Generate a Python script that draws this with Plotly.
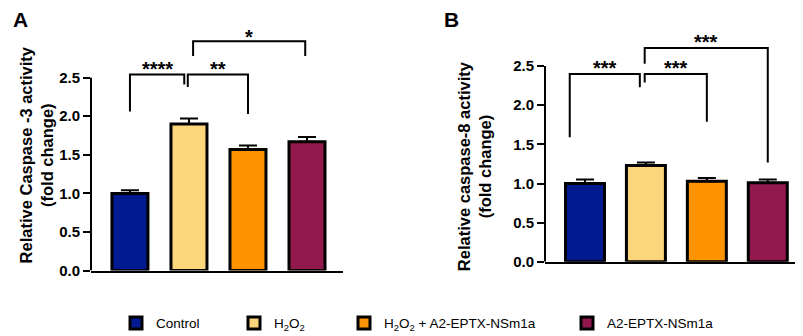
import plotly.graph_objects as go

# ---------------- data ----------------
groups = ["Control", "H<sub>2</sub>O<sub>2</sub>", "H<sub>2</sub>O<sub>2</sub> + A2-EPTX-NSm1a", "A2-EPTX-NSm1a"]
colors = ["#021a8f", "#fdd57a", "#fd9300", "#93184d"]

casp3_mean = [1.00, 1.90, 1.57, 1.67]
casp3_err = [0.04, 0.07, 0.05, 0.06]

casp8_mean = [1.00, 1.23, 1.03, 1.01]
casp8_err = [0.05, 0.04, 0.04, 0.04]

tick_vals = [0, 0.5, 1.0, 1.5, 2.0, 2.5]
tick_text = ["0.0", "0.5", "1.0", "1.5", "2.0", "2.5"]

# significance brackets: (x_left, x_right, top, left_leg_bottom, right_leg_bottom, label, label_y)
sig_a = [
    (0.0, 0.92, 2.54, 2.06, 2.41, "****", 2.61),
    (0.98, 2.0, 2.54, 2.38, 2.03, "**", 2.61),
    (1.07, 2.97, 2.97, 2.78, 2.78, "*", 3.03),
]
sig_b = [
    (-0.25, 0.90, 2.40, 1.59, 2.23, "***", 2.47),
    (0.98, 2.0, 2.40, 2.29, 1.79, "***", 2.47),
    (0.98, 3.0, 2.73, 2.53, 1.27, "***", 2.81),
]

FONT = "Arial, Liberation Sans, sans-serif"
W, H = 803, 336

fig = go.Figure()

xpos = list(range(len(groups)))


def add_panel(means, errs, xa, ya, bar_w, show_leg):
    for i, (g, c, m, e) in enumerate(zip(groups, colors, means, errs)):
        fig.add_trace(go.Bar(
            x=[xpos[i]], y=[m], name=g, width=bar_w,
            marker=dict(color=c, line=dict(color="black", width=3)),
            error_y=dict(type="data", array=[e], arrayminus=[0], symmetric=False,
                         color="black", thickness=2, width=9),
            xaxis=xa, yaxis=ya,
            showlegend=show_leg,
            legend=("legend" if i == 0 else f"legend{i+1}"),
        ))


def add_brackets(sigs, xa, ya):
    for (x0, x1, top, lb, rb, lab, ly) in sigs:
        fig.add_trace(go.Scatter(
            x=[x0, x0, x1, x1], y=[lb, top, top, rb], mode="lines",
            line=dict(color="black", width=2), xaxis=xa, yaxis=ya,
            showlegend=False, hoverinfo="skip", cliponaxis=False,
        ))
        fig.add_annotation(x=(x0 + x1) / 2, y=ly, xref=xa, yref=ya, text=f"<b>{lab}</b>",
                           showarrow=False, font=dict(family=FONT, size=20, color="black"),
                           xanchor="center", yanchor="middle")


add_panel(casp3_mean, casp3_err, "x", "y", 0.61, True)
add_panel(casp8_mean, casp8_err, "x2", "y2", 0.64, False)
add_brackets(sig_a, "x", "y")
add_brackets(sig_b, "x2", "y2")


def px_x(p):
    return p / W


def px_y(p):
    return (H - p) / H


axis_common = dict(showgrid=False, zeroline=False)
tickfont = dict(family=FONT, size=15, color="black", weight="bold")

fig.update_layout(
    width=W, height=H,
    margin=dict(l=0, r=0, t=0, b=0),
    paper_bgcolor="white", plot_bgcolor="white",
    barmode="overlay",
    xaxis=dict(domain=[px_x(83), px_x(335)], range=[-0.66, 3.61], showline=True, linecolor="black",
               linewidth=2, showticklabels=False, ticks="", anchor="y", **axis_common),
    yaxis=dict(domain=[px_y(269), px_y(16)], range=[0, 3.2], showline=False,
               tickvals=tick_vals, ticktext=tick_text, ticks="outside", ticklen=7, tickwidth=2,
               tickcolor="black", tickfont=tickfont, anchor="x", **axis_common),
    xaxis2=dict(domain=[px_x(537), px_x(800)], range=[-0.656, 3.66], showline=True, linecolor="black",
                linewidth=2, showticklabels=False, ticks="", anchor="y2", **axis_common),
    yaxis2=dict(domain=[px_y(260), px_y(19.4)], range=[0, 3.0], showline=False,
                tickvals=tick_vals, ticktext=tick_text, ticks="outside", ticklen=7, tickwidth=2,
                tickcolor="black", tickfont=tickfont, anchor="x2", **axis_common),
    showlegend=True,
)

# y-axis lines only up to 2.5
for xr, yr in (("x domain", "y"), ("x2 domain", "y2")):
    fig.add_shape(type="line", xref=xr, yref=yr, x0=0, x1=0, y0=0, y1=tick_vals[-1],
                  line=dict(color="black", width=2))

# legends (one per item, positioned like the reference)
leg_x = [108, 226, 336, 559]
for i, lx in enumerate(leg_x):
    key = "legend" if i == 0 else f"legend{i+1}"
    fig.update_layout(**{key: dict(x=px_x(lx), y=px_y(323), xanchor="left", yanchor="middle",
                                   orientation="h", bgcolor="rgba(0,0,0,0)",
                                   font=dict(family=FONT, size=13.5, color="black"))})

# y-axis titles
title_font = dict(family=FONT, size=16.5, color="black", weight="bold")
fig.add_annotation(x=px_x(28), y=px_y(151), xref="paper", yref="paper", textangle=-90,
                   text="Relative Caspase -3 activity<br>(fold change)", showarrow=False,
                   font=title_font, xanchor="center", yanchor="middle")
fig.add_annotation(x=px_x(466), y=px_y(162), xref="paper", yref="paper", textangle=-90,
                   text="Relative caspase-8 activity<br>(fold change)", showarrow=False,
                   font=title_font, xanchor="center", yanchor="middle")

# panel letters
for lab, lx in (("A", 13), ("B", 443)):
    fig.add_annotation(x=px_x(lx), y=px_y(12), xref="paper", yref="paper", text=f"<b>{lab}</b>",
                       showarrow=False, font=dict(family=FONT, size=21, color="black"),
                       xanchor="center", yanchor="middle")

fig.write_html("out.html")
